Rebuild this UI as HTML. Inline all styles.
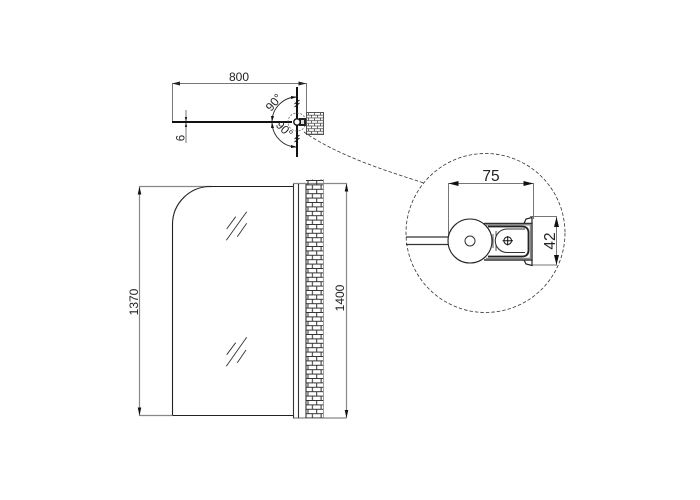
<!DOCTYPE html>
<html><head><meta charset="utf-8"><style>
html,body{margin:0;padding:0;background:#fff}
svg{display:block}
text{font-family:"Liberation Sans",sans-serif;fill:#222}
</style></head><body>
<svg width="700" height="500" viewBox="0 0 700 500" xmlns="http://www.w3.org/2000/svg">
<defs>
<pattern id="b" x="306" y="180" width="8.700" height="8.800" patternUnits="userSpaceOnUse">
<path d="M0 .5H8.700M0 4.900H8.700M2 .5V4.900M6.400 4.900V8.800" stroke="#333" stroke-width="1" fill="none"/>
</pattern>
<pattern id="b2" x="307" y="112" width="6" height="5.400" patternUnits="userSpaceOnUse">
<path d="M0 .5H6M0 3.200H6M1.500 .5V3.200M4.500 3.200V5.400" stroke="#444" stroke-width=".8" fill="none"/>
</pattern>
</defs>
<rect width="700" height="500" fill="#fff"/>

<!-- TOP VIEW -->
<g fill="none" stroke="#777" stroke-width="1">
<path d="M172 83.500H306.500M172.500 83V122M306.500 83V112"/>
<path d="M186 110V143"/>
</g>
<path d="M172 83.500l8-2v4zM306.500 83.500l-8-2v4zM186 122l-1.200-5h2.400zM186 122l-1.200 5h2.400z" fill="#222"/>
<path d="M172 122H292" stroke="#111" stroke-width="2" fill="none"/>
<path d="M297 87V157" stroke="#111" stroke-width="2" fill="none"/>
<path d="M294.500 107l5-4M294.500 104l5-4M294.500 142l5-4M294.500 139l5-4" stroke="#111" stroke-width="1" fill="none"/>
<rect x="306.500" y="112.500" width="17" height="22" fill="url(#b2)" stroke="#555" stroke-width="1"/>
<path d="M297 97A25 25 0 0 0 272 122A25 25 0 0 0 297 147" fill="none" stroke="#222" stroke-width=".9"/>
<path d="M297 97l-6-1v3zM272 122l-1-6h3zM272 122l-1 6h3zM297 147l-6 1v-3z" fill="#111"/>
<circle cx="297" cy="122" r="9" fill="none" stroke="#555" stroke-width=".7" stroke-dasharray="2 1.500"/>
<rect x="299" y="118" width="7" height="8" fill="#222"/>
<rect x="301" y="120" width="3" height="4" fill="#ddd"/>
<circle cx="297" cy="122" r="3.200" fill="#fff" stroke="#111" stroke-width="1.400"/>
<path d="M304 132C340 157 390 172 424 183" fill="none" stroke="#333" stroke-width=".8" stroke-dasharray="3.500 2"/>
<text x="239" y="81" font-size="12" text-anchor="middle">800</text>
<text font-size="11.500" text-anchor="middle" transform="translate(184.500 138) rotate(-90)">6</text>
<text font-size="12" text-anchor="middle" transform="translate(277 105) rotate(-50)">90°</text>
<text font-size="12" text-anchor="middle" transform="translate(281.500 132) rotate(45)">90°</text>

<!-- ELEVATION -->
<g fill="none" stroke="#888" stroke-width="1.200">
<path d="M139.500 186.500H212M139.500 186V416M139.500 415.500H172"/>
<path d="M293 183.500H346.500M346.500 183V418M293 418H346.500"/>
</g>
<path d="M139.500 186.500l-1.800 8h3.600zM139.500 415.500l-1.800-8h3.600zM346.500 183.500l-1.800 8h3.600zM346.500 418l-1.800-8h3.600z" fill="#111"/>
<path d="M172.500 415.500V224A38 38 0 0 1 210.500 186.500H293M172.500 415.500H293" fill="none" stroke="#222" stroke-width="1.100"/>
<path d="M226.300 240.300L246.700 211.700M226.700 229L235.700 216.700M237.300 236.700L246.700 223.300M226.300 366.300L246.700 337.300M226.700 354.700L235.700 342.700M237.300 362.700L246 350" fill="none" stroke="#333" stroke-width=".9"/>
<path d="M293.500 184V418M298.500 184V418M306 184V418" fill="none" stroke="#333" stroke-width="1.100"/>
<rect x="306" y="179.500" width="17.500" height="238.500" fill="url(#b)"/>
<path d="M323.500 179.500V418" fill="none" stroke="#888" stroke-width=".8"/>
<text font-size="12" text-anchor="middle" transform="translate(138 302) rotate(-90)">1370</text>
<text font-size="12" text-anchor="middle" transform="translate(344 298) rotate(-90)">1400</text>

<!-- DETAIL -->
<circle cx="485.500" cy="233" r="79.500" fill="none" stroke="#333" stroke-width=".8" stroke-dasharray="3.500 2"/>
<g fill="none" stroke="#777" stroke-width="1">
<path d="M448 183.500H533.500M448.500 183V237M533.500 183V219"/>
<path d="M530 216.500H557M530 265H557M556.500 217V265"/>
</g>
<path d="M448.500 183.500l10-2.500v5zM533.500 183.500l-10-2.500v5zM556.500 217l-2.500 10h5zM556.500 265l-2.500-10h5z" fill="#111"/>
<path d="M406 237H448M406 244.500H448" fill="none" stroke="#333" stroke-width="1.200"/>
<path d="M484 223.500H532V260H484" fill="none" stroke="#333" stroke-width="1.400"/>
<path d="M488 226.500H522Q528.500 226.500 528.500 233V250Q528.500 256.500 522 256.500H488" fill="none" stroke="#222" stroke-width="1.800"/>
<path d="M486 224.800H530.500V258.500H486" fill="none" stroke="#888" stroke-width="1.400"/>
<path d="M532 223.500V217.500L526 219L524 223.500M532 260V265.500L526 264L524 260" fill="none" stroke="#222" stroke-width="1.200"/>
<path d="M493 234V248M496 231V251" fill="none" stroke="#444" stroke-width=".9"/>
<path d="M507 229H525M507 252.500H525" stroke="#333" stroke-width="1" fill="none"/>
<path d="M507 229A11.700 11.700 0 1 0 507 252.500" fill="#fff" stroke="#333" stroke-width="1.100"/>
<circle cx="507.700" cy="240.700" r="3.800" fill="none" stroke="#111" stroke-width="1"/>
<path d="M502.500 240.700H513M507.700 236V245.500" stroke="#111" stroke-width="1" fill="none"/>
<circle cx="470" cy="241" r="22" fill="#fff" stroke="#222" stroke-width="1.100"/>
<circle cx="470" cy="241" r="5" fill="#fff" stroke="#333" stroke-width="1"/>
<text x="491" y="181" font-size="15.500" text-anchor="middle">75</text>
<text font-size="15.500" text-anchor="middle" transform="translate(555 241) rotate(-90)">42</text>
</svg>
</body></html>
